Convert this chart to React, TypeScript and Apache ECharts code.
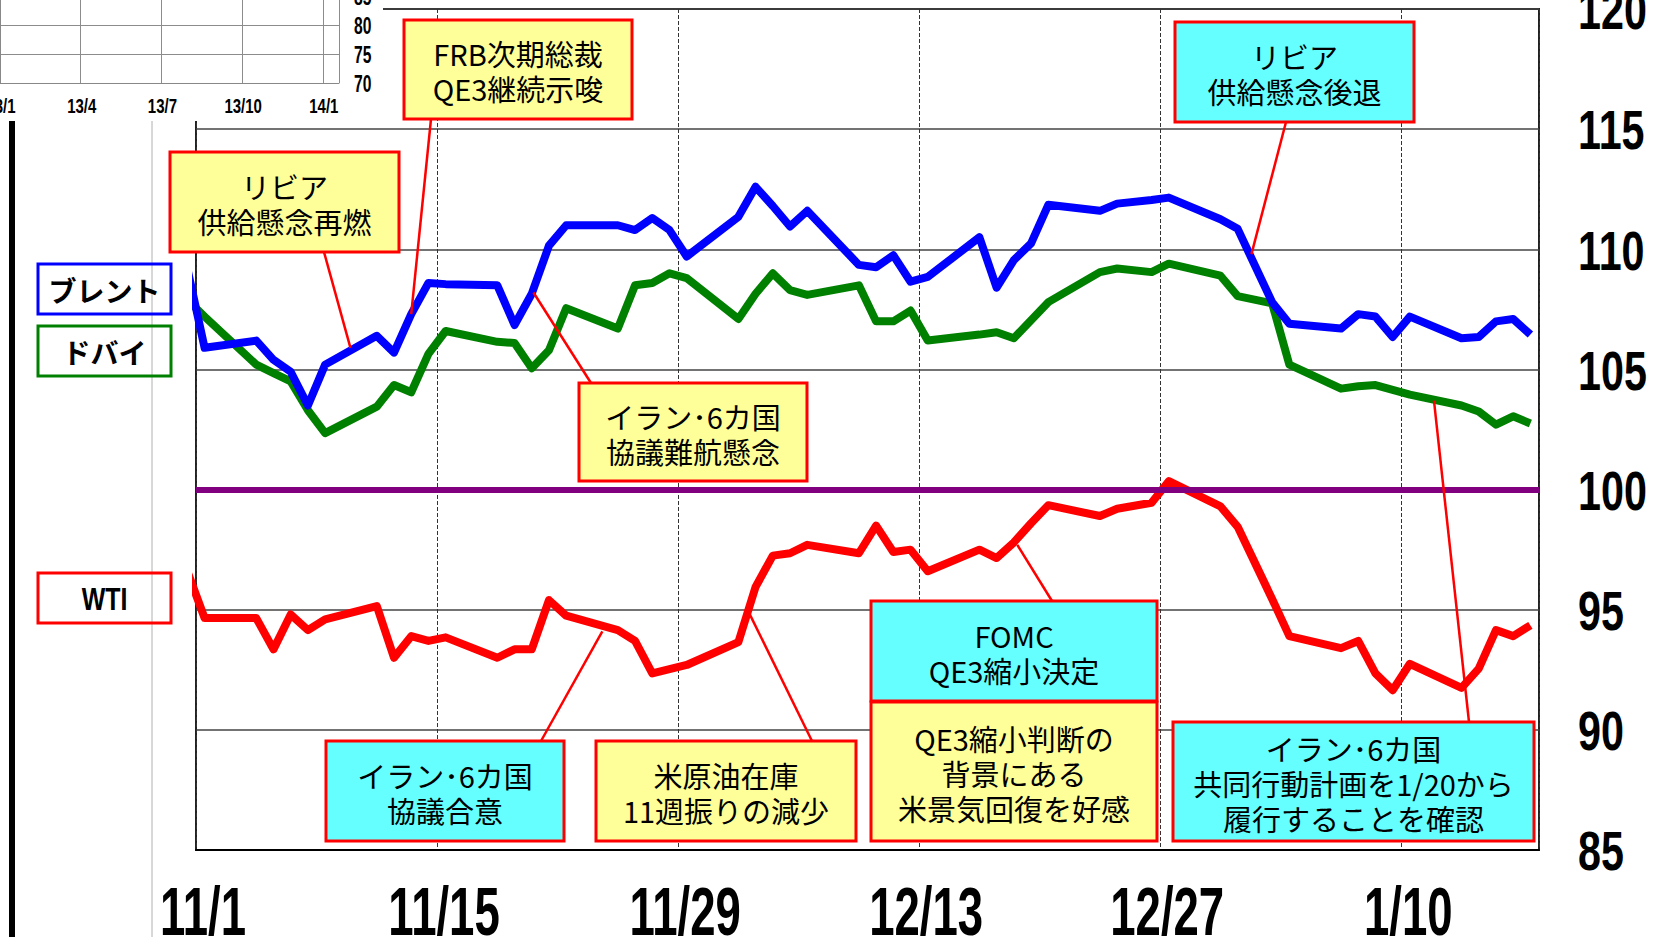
import React, { useEffect, useRef } from 'react';
import * as echarts from 'echarts';

// ---- data ----
const dates = [
  '2013-10-31',
  '2013-11-01', '2013-11-04', '2013-11-05', '2013-11-06', '2013-11-07', '2013-11-08',
  '2013-11-11', '2013-11-12', '2013-11-13', '2013-11-14', '2013-11-15',
  '2013-11-18', '2013-11-19', '2013-11-20', '2013-11-21', '2013-11-22',
  '2013-11-25', '2013-11-26', '2013-11-27', '2013-11-28', '2013-11-29',
  '2013-12-02', '2013-12-03', '2013-12-04', '2013-12-05', '2013-12-06',
  '2013-12-09', '2013-12-10', '2013-12-11', '2013-12-12', '2013-12-13',
  '2013-12-16', '2013-12-17', '2013-12-18', '2013-12-19', '2013-12-20',
  '2013-12-23', '2013-12-24', '2013-12-26', '2013-12-27',
  '2013-12-30', '2013-12-31', '2014-01-02', '2014-01-03',
  '2014-01-06', '2014-01-07', '2014-01-08', '2014-01-09', '2014-01-10',
  '2014-01-13', '2014-01-14', '2014-01-15', '2014-01-16', '2014-01-17',
];

const brent = [
  109.2,
  105.9, 106.2, 105.4, 104.9, 103.5, 105.2,
  106.4, 105.7, 107.3, 108.6, 108.55,
  108.5, 106.85, 108.15, 110.15, 111.0,
  111.0, 110.8, 111.3, 110.8, 109.7,
  111.35, 112.6, 111.8, 110.95, 111.6,
  109.35, 109.25, 109.75, 108.65, 108.85,
  110.5, 108.4, 109.55, 110.25, 111.85,
  111.6, 111.9, 112.05, 112.15,
  111.25, 110.85, 107.8, 106.9,
  106.7, 107.3, 107.2, 106.35, 107.2,
  106.3, 106.35, 107.0, 107.1, 106.45,
];

const dubai = [
  107.9,
  107.2, 105.2, 104.85, 104.5, 103.3, 102.35,
  103.45, 104.35, 104.05, 105.65, 106.6,
  106.15, 106.1, 105.05, 105.8, 107.55,
  106.7, 108.5, 108.6, 109.0, 108.8,
  107.1, 108.15, 109.0, 108.3, 108.1,
  108.5, 107.0, 107.0, 107.45, 106.2,
  106.45, 106.55, 106.3, 107.05, 107.8,
  109.05, 109.2, 109.05, 109.4,
  108.9, 108.05, 107.75, 105.2,
  104.2, 104.3, 104.35, 104.15, 103.95,
  103.5, 103.25, 102.7, 103.05, 102.75,
];

const wti = [
  96.6,
  94.65, 94.65, 93.35, 94.8, 94.15, 94.6,
  95.15, 93.0, 93.9, 93.7, 93.85,
  93.0, 93.35, 93.35, 95.4, 94.75,
  94.15, 93.7, 92.35, null, 92.7,
  93.65, 95.95, 97.25, 97.35, 97.7,
  97.35, 98.5, 97.4, 97.5, 96.6,
  97.5, 97.15, 97.8, 98.6, 99.35,
  98.9, 99.2, 99.45, 100.35,
  99.3, 98.45, 95.45, 93.9,
  93.4, 93.7, 92.35, 91.65, 92.75,
  91.75, 92.55, 94.15, 93.9, 94.35,
];

const xTickDays = [0, 14, 28, 42, 56, 70];
const xTickLabels = ['11/1', '11/15', '11/29', '12/13', '12/27', '1/10'];
const yTicks = [85, 90, 95, 100, 105, 110, 115, 120];
const refLevel = 100;

const insetXTicks = [0, 3, 6, 9, 12];
const insetXLabels = ['13/1', '13/4', '13/7', '13/10', '14/1'];
const insetYTicks = [70, 75, 80, 85];

const seriesNames = ['ブレント', 'ドバイ', 'WTI'];
const seriesColors = ['#0000ff', '#008000', '#ff0000'];

const YELLOW = '#ffff99';
const CYAN = '#66ffff';

// annotation texts; anchors are in chart data coords [days from 11/1, price]
const annotations = [
  { lines: ['リビア', '供給懸念再燃'], fill: YELLOW, box: [170, 152, 229, 100], from: [324, 252], anchor: [8.97, 105.9] },
  { lines: ['FRB次期総裁', 'QE3継続示唆'], fill: YELLOW, box: [404, 20, 228, 99], from: [431, 119], anchor: [12.5, 107.3] },
  { lines: ['リビア', '供給懸念後退'], fill: CYAN, box: [1175, 22, 239, 100], from: [1286, 122], anchor: [61.3, 109.8] },
  { lines: ['イラン･6カ国', '協議難航懸念'], fill: YELLOW, box: [579, 383, 228, 98], from: [591, 383], anchor: [19.6, 108.2] },
  { lines: ['FOMC', 'QE3縮小決定'], fill: CYAN, box: [871, 601, 286, 100], from: [1052, 601], anchor: [47.7, 97.7] },
  { lines: ['QE3縮小判断の', '背景にある', '米景気回復を好感'], fill: YELLOW, box: [871, 702, 286, 139], from: null, anchor: null },
  { lines: ['イラン･6カ国', '協議合意'], fill: CYAN, box: [326, 741, 238, 100], from: [541, 741], anchor: [23.6, 94.1] },
  { lines: ['米原油在庫', '11週振りの減少'], fill: YELLOW, box: [596, 741, 260, 100], from: [812, 741], anchor: [32.1, 94.9] },
  { lines: ['イラン･6カ国', '共同行動計画を1/20から', '履行することを確認'], fill: CYAN, box: [1173, 722, 361, 119], from: [1469, 722], anchor: [71.9, 103.7] },
];

const legendBoxes = [
  { text: 'ブレント', color: '#0000ff', box: [38, 264, 133, 50] },
  { text: 'ドバイ', color: '#008000', box: [38, 326, 133, 50] },
  { text: 'WTI', color: '#ff0000', box: [38, 573, 133, 50] },
];

const LAT = "'Liberation Sans',Arial,sans-serif";
const JP = "'Noto Sans CJK JP','Noto Sans',sans-serif";

const START = Date.UTC(2013, 10, 1);
function dayPos(d: string): number {
  const [y, m, dd] = d.split('-').map(Number);
  return (Date.UTC(y, m - 1, dd) - START) / 86400000 + 0.5;
}

function toPoints(vals: (number | null)[]) {
  return dates
    .map((d, i) => [dayPos(d), vals[i]] as [number, number | null])
    .filter((p) => p[1] !== null);
}

export default function App() {
  const ref = useRef<HTMLDivElement>(null);

  useEffect(() => {
    if (!ref.current) return;
    const chart = echarts.init(ref.current, undefined, { renderer: 'svg' });

    const leaderData = annotations
      .filter((a) => a.from && a.anchor)
      .map((a) => [{ x: (a.from as number[])[0], y: (a.from as number[])[1] }, { coord: a.anchor }]);

    const vals = [brent, dubai, wti];
    const order = [2, 1, 0];
    const series: any[] = order.map((k) => {
      const s: any = {
        type: 'line',
        name: seriesNames[k],
        xAxisIndex: 0,
        yAxisIndex: 0,
        data: toPoints(vals[k]),
        symbol: 'none',
        showSymbol: false,
        clip: true,
        connectNulls: true,
        lineStyle: { color: seriesColors[k], width: 8, join: 'round', cap: 'butt' },
        itemStyle: { color: seriesColors[k] },
        emphasis: { disabled: true },
        z: 3,
      };
      if (k === 2) {
        s.markLine = {
          silent: true, symbol: ['none', 'none'], z: 5, animation: false,
          label: { show: false },
          lineStyle: { color: '#800080', width: 6, type: 'solid' },
          data: [{ yAxis: refLevel }],
        };
      }
      if (k === 1) {
        s.markLine = {
          silent: true, symbol: ['none', 'none'], z: 15, animation: false,
          label: { show: false },
          lineStyle: { color: '#ff0000', width: 2.5, type: 'solid' },
          data: leaderData,
        };
      }
      return s;
    });

    chart.setOption({
      animation: false,
      grid: [
        { left: 196, right: 130, top: 9, bottom: 87, outerBoundsMode: 'none', containLabel: false, show: true, borderColor: '#222', borderWidth: 2, backgroundColor: 'transparent' },
        { left: 0, right: 1330, top: -4, bottom: 854, outerBoundsMode: 'none', containLabel: false, show: false },
      ],
      xAxis: [
        {
          type: 'value', gridIndex: 0, min: 0, max: 78, interval: 14,
          axisLine: { show: true, lineStyle: { color: '#000', width: 2 } },
          axisTick: { show: false },
          axisLabel: { show: false },
          splitLine: { show: true, lineStyle: { color: '#333', width: 1, type: [4, 2] } },
        },
        {
          type: 'value', gridIndex: 1, min: 0, max: 12.6, interval: 3, z: 10,
          axisLine: { show: true, lineStyle: { color: '#888', width: 1 } },
          axisTick: { show: false },
          axisLabel: { show: false },
          splitLine: { show: true, lineStyle: { color: '#8c8c8c', width: 1 } },
        },
      ],
      yAxis: [
        {
          type: 'value', gridIndex: 0, position: 'right', min: yTicks[0], max: yTicks[yTicks.length - 1], interval: 5,
          axisLine: { show: false }, axisTick: { show: false },
          axisLabel: { show: false },
          splitLine: { show: true, lineStyle: { color: '#444', width: 1.5 } },
        },
        {
          type: 'value', gridIndex: 1, position: 'right', min: insetYTicks[0], max: insetYTicks[insetYTicks.length - 1], interval: 5, z: 10,
          axisLine: { show: true, lineStyle: { color: '#888', width: 1 } }, axisTick: { show: false },
          axisLabel: { show: false },
          splitLine: { show: true, lineStyle: { color: '#8c8c8c', width: 1 } },
        },
      ],
      series,
    });

    // ---- graphics: cover, frames, legend boxes, callouts, condensed tick labels ----
    const graphics: any[] = [];
    graphics.push({ type: 'rect', z: 5, shape: { x: 0, y: 0, width: 383, height: 121 }, style: { fill: '#ffffff' }, silent: true });
    graphics.push({ type: 'line', z: 6, shape: { x1: 12, y1: 121, x2: 12, y2: 937 }, style: { stroke: '#000', lineWidth: 6 }, silent: true });
    graphics.push({ type: 'line', z: 6, shape: { x1: 152, y1: 121, x2: 152, y2: 937 }, style: { stroke: '#b0b0b0', lineWidth: 1 }, silent: true });

    legendBoxes.forEach((l) => {
      const [x, y, w, h] = l.box;
      const isLatin = l.text === 'WTI';
      graphics.push({ type: 'rect', z: 20, shape: { x, y, width: w, height: h }, style: { fill: 'rgba(0,0,0,0)', stroke: l.color, lineWidth: 3 } });
      graphics.push({
        type: 'text', z: 21, x: x + w / 2, y: y + h / 2 + 1, scaleX: isLatin ? 0.78 : 1,
        style: { text: l.text, fontSize: isLatin ? 32 : 28, fontWeight: 'bold', fontFamily: isLatin ? LAT : JP, fill: '#000', align: 'center', verticalAlign: 'middle' },
      });
    });

    annotations.forEach((a) => {
      const [x, y, w, h] = a.box;
      graphics.push({ type: 'rect', z: 20, shape: { x, y, width: w, height: h }, style: { fill: a.fill, stroke: '#ff0000', lineWidth: 3 } });
      graphics.push({
        type: 'text', z: 21, x: x + w / 2, y: y + h / 2 + 1,
        style: { text: a.lines.join('\n'), fontSize: 29, fontFamily: JP, fill: '#000', align: 'center', verticalAlign: 'middle', lineHeight: 35 },
      });
    });

    // main x tick labels (condensed)
    const xBottom = chart.convertToPixel({ yAxisIndex: 0 }, yTicks[0]) as number;
    xTickDays.forEach((d, i) => {
      const px = chart.convertToPixel({ xAxisIndex: 0 }, d) as number;
      graphics.push({
        type: 'text', z: 22, x: px + 7, y: xBottom + 61, scaleX: 0.66,
        style: { text: xTickLabels[i], fontSize: 69, fontWeight: 'bold', fontFamily: LAT, fill: '#000', align: 'center', verticalAlign: 'middle' },
      });
    });
    // main y tick labels (condensed)
    const yRight = chart.convertToPixel({ xAxisIndex: 0 }, 78) as number;
    yTicks.forEach((v) => {
      const py = chart.convertToPixel({ yAxisIndex: 0 }, v) as number;
      graphics.push({
        type: 'text', z: 22, x: yRight + 39, y: py + 1, scaleX: 0.75,
        style: { text: String(v), fontSize: 55, fontWeight: 'bold', fontFamily: LAT, fill: '#000', align: 'left', verticalAlign: 'middle' },
      });
    });
    // inset tick labels
    const insetBottom = chart.convertToPixel({ yAxisIndex: 1 }, insetYTicks[0]) as number;
    insetXTicks.forEach((m, i) => {
      const px = chart.convertToPixel({ xAxisIndex: 1 }, m) as number;
      graphics.push({
        type: 'text', z: 22, x: px + 1, y: insetBottom + 23, scaleX: 0.75,
        style: { text: insetXLabels[i], fontSize: 20, fontWeight: 'bold', fontFamily: LAT, fill: '#000', align: 'center', verticalAlign: 'middle' },
      });
    });
    const insetRight = chart.convertToPixel({ xAxisIndex: 1 }, 12.6) as number;
    insetYTicks.forEach((v) => {
      const py = chart.convertToPixel({ yAxisIndex: 1 }, v) as number;
      graphics.push({
        type: 'text', z: 22, x: insetRight + 15, y: py + 1, scaleX: 0.68,
        style: { text: String(v), fontSize: 23, fontWeight: 'bold', fontFamily: LAT, fill: '#000', align: 'left', verticalAlign: 'middle' },
      });
    });

    chart.setOption({ graphic: graphics });

    return () => chart.dispose();
  }, []);

  return (
    <div
      ref={ref}
      style={{ position: 'fixed', left: 0, top: 0, width: 1669, height: 937, background: '#fff' }}
    />
  );
}
